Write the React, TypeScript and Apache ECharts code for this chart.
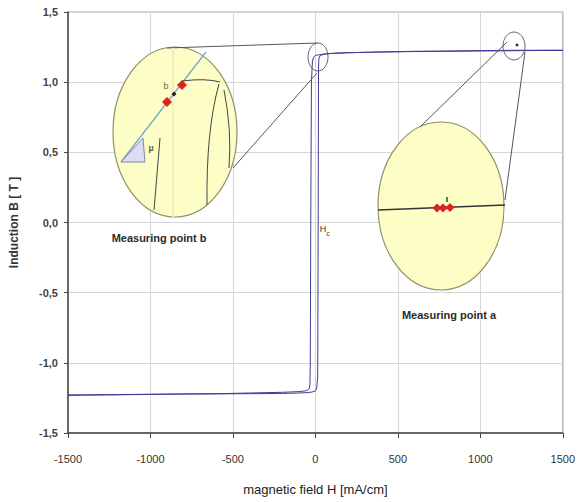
import React, { useEffect, useRef } from "react";
import * as echarts from "echarts";

// Hysteresis loop: ascending branch (from negative to positive saturation)
const ascH = [-1500, -1400, -1200, -1000, -800, -600, -400, -200, -100, -50, -20, 0, 8, 14, 17, 19, 21, 24, 30, 40, 60, 100, 200, 400, 600, 800, 1000, 1200, 1400, 1500];
const ascB = [-1.228, -1.228, -1.226, -1.224, -1.222, -1.221, -1.22, -1.218, -1.215, -1.212, -1.208, -1.2, -1.18, -1.1, 0, 1.1, 1.16, 1.18, 1.19, 1.195, 1.2, 1.205, 1.21, 1.215, 1.218, 1.22, 1.222, 1.224, 1.226, 1.226];
// Descending branch (from positive to negative saturation)
const desH = [1500, 1200, 1000, 800, 600, 400, 200, 100, 50, 20, 0, -10, -18, -24, -28, -31, -33, -36, -42, -60, -100, -200, -400, -600, -800, -1000, -1200, -1400, -1500];
const desB = [1.228, 1.227, 1.225, 1.222, 1.22, 1.215, 1.21, 1.205, 1.2, 1.195, 1.19, 1.18, 1.15, 1.0, 0, -1.0, -1.15, -1.18, -1.19, -1.2, -1.205, -1.21, -1.215, -1.22, -1.222, -1.225, -1.228, -1.23, -1.232];

const xTicks = { min: -1500, max: 1500, step: 500 };
const yTicks = { min: -1.5, max: 1.5, step: 0.5 };

const xName = "magnetic field H [mA/cm]";
const yName = "Induction B [ T ]";
const labelA = "Measuring point a";
const labelB = "Measuring point b";

const zip = (xs: number[], ys: number[]) => xs.map((x, i) => [x, ys[i]]);

export default function App() {
  const ref = useRef<HTMLDivElement>(null);
  useEffect(() => {
    if (!ref.current) return;
    const chart = echarts.init(ref.current, null, { renderer: "svg" });
    const ellipseFill = "#fdfdc6";
    const ellipseStroke = "#8f8f6a";
    const guide = "#555555";
    const diamond = (cx: number, cy: number, r: number, color: string) => ({
      type: "polygon",
      z: 110,
      shape: { points: [[cx, cy - r], [cx + r, cy], [cx, cy + r], [cx - r, cy]] },
      style: { fill: color, stroke: null },
    });
    const line = (x1: number, y1: number, x2: number, y2: number, stroke: string, w = 1) => ({
      type: "line",
      z: 105,
      shape: { x1, y1, x2, y2 },
      style: { stroke, lineWidth: w },
    });
    const graphic: any[] = [
      // connector lines to point b
      line(167, 48, 317, 43, guide),
      line(233, 168, 317, 73, guide),
      // small circle at b
      { type: "ellipse", z: 105, shape: { cx: 318, cy: 57, rx: 10, ry: 14 }, style: { fill: null, stroke: "#666", lineWidth: 1 } },
      // inset b
      { type: "ellipse", z: 104, shape: { cx: 175, cy: 132, rx: 62, ry: 85 }, style: { fill: ellipseFill, stroke: ellipseStroke, lineWidth: 1.2 } },
      line(173, 48, 173, 217, "#eeeec0", 2),
      { type: "polygon", z: 106, shape: { points: [[121, 162], [145, 162], [143, 138]] }, style: { fill: "#dcdcf4", stroke: "#7a8aa8", lineWidth: 1 } },
      line(121, 162, 206, 52, "#7aa6c8", 1.3),
      line(160, 138, 154, 210, "#444", 1),
      { type: "bezierCurve", z: 105, shape: { x1: 182, y1: 81, cpx1: 205, cpy1: 78, x2: 220, y2: 82 }, style: { stroke: "#444", lineWidth: 1, fill: null } },
      { type: "bezierCurve", z: 105, shape: { x1: 219, y1: 84, cpx1: 206, cpy1: 130, x2: 207, y2: 205 }, style: { stroke: "#444", lineWidth: 1, fill: null } },
      { type: "bezierCurve", z: 105, shape: { x1: 224, y1: 90, cpx1: 232, cpy1: 130, x2: 229, y2: 168 }, style: { stroke: "#444", lineWidth: 1, fill: null } },
      diamond(167, 102, 5, "#dd2222"),
      diamond(182, 85, 5, "#dd2222"),
      diamond(174, 94, 2.5, "#222"),
      { type: "text", z: 110, style: { text: "b", x: 166, y: 86, font: "9px Liberation Sans", fill: "#6b6b2a", textAlign: "center", textVerticalAlign: "middle" } },
      { type: "text", z: 110, style: { text: "µ", x: 151, y: 148, font: "bold 9px Liberation Sans", fill: "#556633", textAlign: "center", textVerticalAlign: "middle" } },
      // connector lines to point a
      line(420, 127, 507, 42, guide),
      line(505, 200, 525, 52, guide),
      { type: "ellipse", z: 105, shape: { cx: 514, cy: 46, rx: 11, ry: 14 }, style: { fill: null, stroke: "#666", lineWidth: 1 } },
      { type: "circle", z: 106, shape: { cx: 517, cy: 45, r: 1.5 }, style: { fill: "#333" } },
      // inset a
      { type: "ellipse", z: 104, shape: { cx: 441, cy: 206, rx: 63, ry: 84 }, style: { fill: ellipseFill, stroke: ellipseStroke, lineWidth: 1.2 } },
      line(378, 210, 505, 205, "#333", 1.3),
      diamond(437, 208, 4.5, "#dd2222"),
      diamond(443, 208, 4.5, "#dd2222"),
      diamond(450, 207.5, 4.5, "#dd2222"),
      line(447, 202, 447, 197, "#4a8a3a", 2),
      // labels
      { type: "text", z: 110, style: { text: labelB, x: 159, y: 238, font: "bold 11px Liberation Sans", fill: "#2a2a2a", textAlign: "center", textVerticalAlign: "middle" } },
      { type: "text", z: 110, style: { text: labelA, x: 449, y: 315, font: "bold 11px Liberation Sans", fill: "#2a2a2a", textAlign: "center", textVerticalAlign: "middle" } },
      { type: "text", z: 110, style: { text: "H", x: 323, y: 229, font: "9px Liberation Sans", fill: "#333", textAlign: "center", textVerticalAlign: "middle" } },
      { type: "text", z: 110, style: { text: "c", x: 328, y: 233, font: "7px Liberation Sans", fill: "#333", textAlign: "center", textVerticalAlign: "middle" } },
    ];
    chart.setOption({
      animation: false,
      backgroundColor: "#ffffff",
      grid: { left: 68, right: 11, top: 12, bottom: 69, show: true, borderColor: "#a0a0a0", borderWidth: 1, backgroundColor: "transparent" },
      xAxis: {
        type: "value",
        min: xTicks.min,
        max: xTicks.max,
        interval: xTicks.step,
        name: xName,
        nameLocation: "middle",
        nameGap: 50,
        nameTextStyle: { fontFamily: "Liberation Sans", fontSize: 13, color: "#222" },
        axisLine: { onZero: false, lineStyle: { color: "#444", width: 1.5 } },
        axisTick: { show: true, length: 5, lineStyle: { color: "#444" } },
        axisLabel: { margin: 20, fontFamily: "Liberation Sans", fontSize: 11, color: "#333", formatter: (v: number) => String(v) },
        splitLine: { show: true, lineStyle: { color: "#d6d6d6", width: 1 } },
      },
      yAxis: {
        type: "value",
        min: yTicks.min,
        max: yTicks.max,
        interval: yTicks.step,
        name: yName,
        nameLocation: "middle",
        nameGap: 48,
        nameTextStyle: { fontFamily: "Liberation Sans", fontSize: 12, fontWeight: "bold", color: "#333" },
        axisLine: { show: true, onZero: false, lineStyle: { color: "#444", width: 1.5 } },
        axisTick: { show: true, length: 4, lineStyle: { color: "#444" } },
        axisLabel: { margin: 10, fontFamily: "Liberation Sans", fontSize: 11, fontWeight: "bold", color: "#444", formatter: (v: number) => v.toFixed(1).replace(".", ",") },
        splitLine: { show: true, lineStyle: { color: "#d6d6d6", width: 1 } },
      },
      series: [
        { type: "line", name: "ascending", data: zip(ascH, ascB), showSymbol: false, symbol: "none", lineStyle: { color: "#3c3c98", width: 1 }, z: 3 },
        { type: "line", name: "descending", data: zip(desH, desB), showSymbol: false, symbol: "none", lineStyle: { color: "#3c3c98", width: 1 }, z: 3 },
      ],
      graphic,
    });
    return () => chart.dispose();
  }, []);
  return <div ref={ref} style={{ position: "absolute", left: 0, top: 0, width: 578, height: 502 }} />;
}
